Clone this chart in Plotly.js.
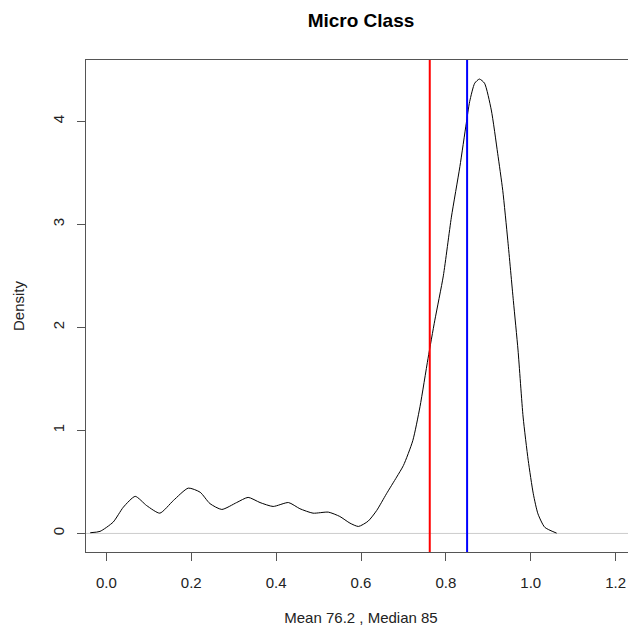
<!DOCTYPE html>
<html>
<head>
<meta charset="utf-8">
<script src="https://cdn.plot.ly/plotly-3.0.1.min.js"></script>
<style>
html,body{margin:0;padding:0;overflow:hidden;background:#fff;}
#chart{width:650px;height:632px;}
</style>
</head>
<body>
<div id="chart"></div>
<script>
// Density estimate
var densityX = [-0.038, -0.015, 0.016, 0.04, 0.068, 0.095, 0.126, 0.158, 0.193, 0.221, 0.244, 0.272, 0.307, 0.334, 0.362, 0.393, 0.429, 0.456, 0.487, 0.523, 0.55, 0.574, 0.594, 0.617, 0.637, 0.66, 0.684, 0.70, 0.722, 0.739, 0.758, 0.774, 0.794, 0.813, 0.833, 0.848, 0.856, 0.868, 0.879, 0.891, 0.907, 0.922, 0.934, 0.946, 0.959, 0.97, 0.982, 0.994, 1.006, 1.017, 1.033, 1.061];
var densityY = [0.007, 0.02, 0.11, 0.255, 0.36, 0.27, 0.197, 0.32, 0.44, 0.40, 0.29, 0.233, 0.30, 0.35, 0.30, 0.262, 0.30, 0.24, 0.197, 0.207, 0.165, 0.10, 0.068, 0.12, 0.223, 0.385, 0.547, 0.66, 0.90, 1.23, 1.70, 2.07, 2.50, 3.07, 3.56, 3.98, 4.19, 4.37, 4.41, 4.37, 4.11, 3.69, 3.33, 2.84, 2.26, 1.78, 1.13, 0.71, 0.385, 0.19, 0.06, 0.003];
var meanValue = [0.762];
var medianValue = [0.85];
var xTickVals = [0.0, 0.2, 0.4, 0.6, 0.8, 1.0, 1.2];
var xTickText = ["0.0", "0.2", "0.4", "0.6", "0.8", "1.0", "1.2"];
var yTickVals = [0, 1, 2, 3, 4];
var yTickText = ["0", "1", "2", "3", "4"];
var titleText = "Micro Class";
var xLabel = "Mean 76.2 , Median 85";
var yLabel = "Density";

var font = "Liberation Sans, Arial, sans-serif";

var traces = [{
  x: densityX, y: densityY, type: "scatter", mode: "lines",
  line: {color: "#000000", width: 1, shape: "spline", smoothing: 0.6},
  hoverinfo: "skip", showlegend: false
}];

var shapes = [
  {type: "line", xref: "paper", yref: "y", x0: 0, x1: 1, y0: 0, y1: 0,
   line: {color: "#cccccc", width: 1}, layer: "below"},
  {type: "line", xref: "x", yref: "paper", x0: meanValue[0], x1: meanValue[0], y0: 0, y1: 1,
   line: {color: "#ff0000", width: 2}},
  {type: "line", xref: "x", yref: "paper", x0: medianValue[0], x1: medianValue[0], y0: 0, y1: 1,
   line: {color: "#0000ff", width: 2}}
];

var layout = {
  width: 650, height: 632,
  margin: {l: 86, r: 14, t: 60, b: 80, pad: 0},
  paper_bgcolor: "#ffffff", plot_bgcolor: "#ffffff",
  font: {family: font, size: 15, color: "#000000"},
  showlegend: false,
  title: {text: "<b>" + titleText + "</b>", font: {family: font, size: 19, color: "#000"},
          xref: "paper", x: 0.5, xanchor: "center", yref: "container", y: 1 - 20/632, yanchor: "middle"},
  xaxis: {
    range: [-0.048, 1.248], tickvals: xTickVals, ticktext: xTickText,
    showgrid: false, zeroline: false, showline: true, mirror: true,
    linecolor: "#555555", linewidth: 1,
    ticks: "outside", ticklen: 8, tickwidth: 1, tickcolor: "#555555",
    ticklabelstandoff: 9,
    tickfont: {family: font, size: 15, color: "#222"},
    title: {text: xLabel, font: {family: font, size: 15, color: "#222"}, standoff: 22}
  },
  yaxis: {
    range: [-0.18, 4.595], tickvals: yTickVals, ticktext: yTickText,
    showgrid: false, zeroline: false, showline: true, mirror: true,
    linecolor: "#555555", linewidth: 1,
    ticks: "outside", ticklen: 8, tickwidth: 1, tickcolor: "#555555",
    tickangle: -90, ticklabelstandoff: 7,
    tickfont: {family: font, size: 15, color: "#222"},
    title: {text: yLabel, font: {family: font, size: 15, color: "#222"}, standoff: 21}
  },
  shapes: shapes
};

Plotly.newPlot("chart", traces, layout, {displayModeBar: false, staticPlot: true});
</script>
</body>
</html>
